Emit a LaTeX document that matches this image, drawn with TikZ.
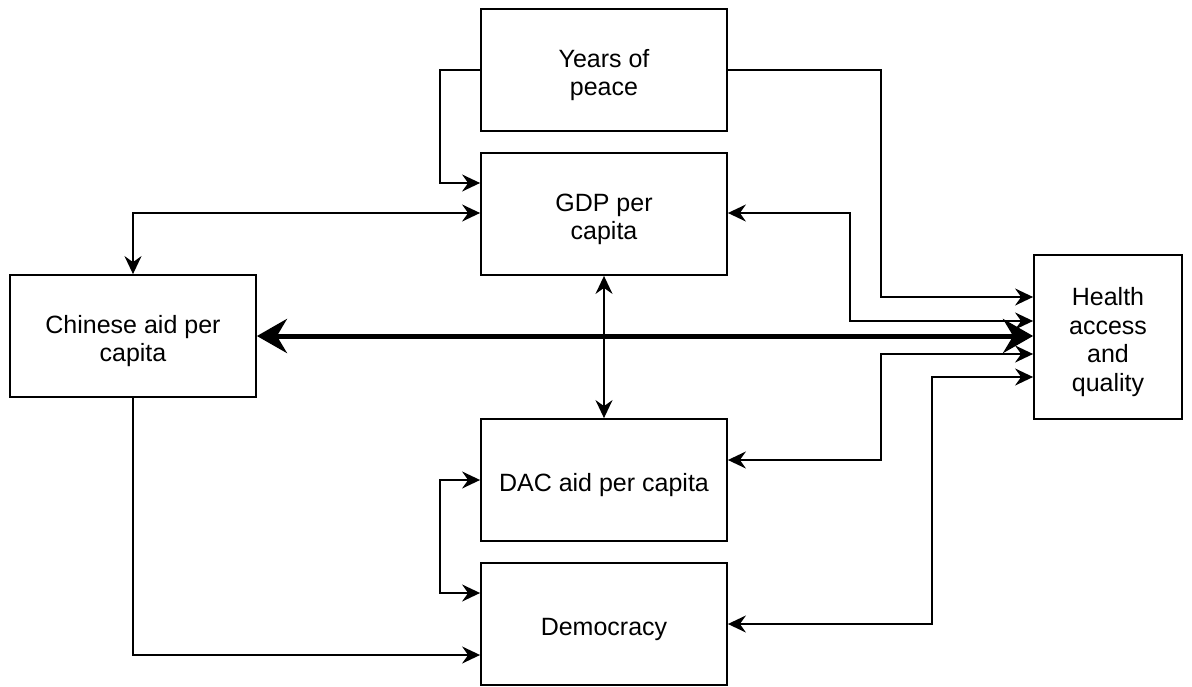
\documentclass[tikz,border=0pt]{standalone}
\usepackage{fontspec}
\setmainfont{Liberation Sans}
\usetikzlibrary{arrows.meta}
\newcommand{\topstrut}{\rule{0pt}{28pt}}
\begin{document}
\begin{tikzpicture}[x=1pt,y=-1pt,
  box/.style={draw,line width=1.8pt,minimum width=246pt,minimum height=122pt,align=center,font=\fontsize{25}{28.5}\selectfont,inner sep=0pt},
  conn/.style={line width=1.8pt,arrows={-Stealth[length=18pt,width=17pt,inset=6pt]}},
  biconn/.style={line width=1.8pt,arrows={Stealth[length=18pt,width=17pt,inset=6pt]-Stealth[length=18pt,width=17pt,inset=6pt]}},
  thickconn/.style={line width=5pt,arrows={Stealth[length=30pt,width=34pt,inset=10pt]-Stealth[length=30pt,width=34pt,inset=10pt]}}]
\useasboundingbox (0,0) rectangle (1192,686);
\node[box] (peace) at (604,70) {\topstrut Years of\\peace};
\node[box] (gdp) at (604,214) {\topstrut GDP per\\capita};
\node[box] (dac) at (604,480) {\topstrut DAC aid per capita};
\node[box] (dem) at (604,624) {\topstrut Democracy};
\node[box] (china) at (133,336) {\topstrut Chinese aid per\\capita};
\node[box,minimum width=148pt,minimum height=164pt] (health) at (1108,337) {\topstrut Health\\access\\and\\quality};
% Years -> GDP
\draw[conn] (peace.west) -- (440,70) -- (440,183) -- (gdp.west |- 0,183);
% China <-> GDP
\draw[biconn] (gdp.west |- 0,213) -- (china.north |- 0,213) -- (china.north);
% Years -> Health
\draw[conn] (peace.east) -- (881,70) -- (881,297) -- (health.west |- 0,297);
% GDP <-> Health
\draw[biconn] (gdp.east |- 0,213) -- (850,213) -- (850,321) -- (health.west |- 0,321);
% China <-> Health
\draw[thickconn] (china.east) -- (health.west |- china.east);
% DAC <-> Health
\draw[biconn] (dac.east |- 0,460) -- (881,460) -- (881,354) -- (health.west |- 0,354);
% Democracy <-> Health
\draw[biconn] (dem.east) -- (932,624) -- (932,377) -- (health.west |- 0,377);
% GDP <-> DAC
\draw[biconn] (gdp.south) -- (dac.north);
% DAC <-> Democracy
\draw[biconn] (dac.west) -- (440,480) -- (440,593) -- (dem.west |- 0,593);
% China -> Democracy
\draw[conn] (china.south) -- (china.south |- 0,655) -- (dem.west |- 0,655);
\end{tikzpicture}
\end{document}
